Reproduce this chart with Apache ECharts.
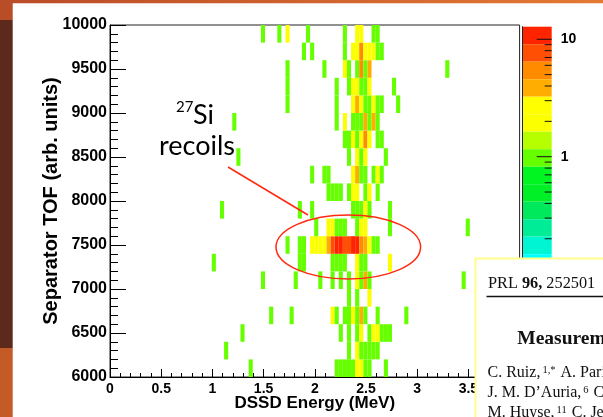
<!DOCTYPE html>
<html>
<head>
<meta charset="utf-8">
<script src="https://cdn.jsdelivr.net/npm/echarts@6/dist/echarts.min.js"></script>
<style>
html,body{margin:0;padding:0;background:#fff;}
#chart{width:603px;height:417px;}
</style>
</head>
<body>
<div id="chart"></div>
<script>
// ---------------- DATA ----------------
// Histogram binning (DSSD energy in MeV, separator TOF in arb. units)
const energyBinStart = 0.034;
const energyBinWidth = 0.04;
const tofBinWidth = 200;

// Each TOF row: [energy bin index, counts]
const row6000 = [[33,1],[54,1],[55,1],[56,1],[57,1],[58,1],[59,2],[60,2],[61,1],[62,1],[66,1]];
const row6200 = [[27,1],[57,1],[59,2],[60,1],[61,1],[62,1],[63,1],[64,1]];
const row6400 = [[31,1],[55,1],[57,1],[59,1],[60,2],[62,1],[63,2],[64,2],[65,1],[66,1],[67,1]];
const row6600 = [[38,1],[43,1],[53,2],[54,1],[56,1],[57,1],[58,2],[59,1],[60,4],[61,1],[64,1],[71,1]];
const row6800 = [[57,1],[59,1],[62,2]];
const row7000 = [[36,1],[44,1],[50,1],[53,1],[55,1],[57,1],[59,2],[60,1],[61,4],[62,1],[85,1]];
const row7200 = [[24,1],[45,1],[46,1],[53,1],[54,1],[55,1],[56,1],[59,2],[60,1],[61,1],[67,2]];
const row7400 = [[42,1],[45,1],[46,1],[48,2],[49,2],[50,2],[51,2],[52,4],[53,7],[54,10],[55,11],[56,8],[57,8],[58,10],[59,10],[60,6],[61,4],[62,2],[63,1],[64,1]];
const row7600 = [[49,1],[52,2],[53,2],[54,1],[55,1],[56,1],[59,1],[60,2],[61,2],[67,1],[86,1]];
const row7800 = [[26,1],[45,1],[48,1],[58,1],[59,1],[60,1],[61,2],[62,1],[67,1]];
const row8000 = [[52,1],[53,1],[54,1],[55,1],[57,1],[58,2],[59,2],[61,1],[62,2],[64,1]];
const row8200 = [[48,1],[51,1],[52,1],[58,2],[59,4],[60,1],[61,1],[63,1],[64,2],[65,1]];
const row8400 = [[30,1],[57,1],[59,2],[60,1],[61,2],[66,1]];
const row8600 = [[56,1],[57,1],[58,2],[59,1],[60,2],[61,5],[62,2],[64,1],[65,1]];
const row8800 = [[29,1],[54,1],[56,2],[58,1],[59,1],[60,1],[61,4],[62,1],[63,4],[64,1]];
const row9000 = [[42,1],[54,1],[58,2],[59,4],[60,2],[61,1],[62,1],[63,2],[64,1],[65,1],[69,1]];
const row9200 = [[42,1],[54,1],[57,1],[58,2],[59,2],[60,1],[61,1],[62,2],[68,1]];
const row9400 = [[42,1],[51,1],[56,2],[57,1],[59,1],[60,5],[61,1],[62,4],[81,1]];
const row9600 = [[46,1],[48,1],[56,1],[58,2],[59,2],[60,5],[61,2],[62,2],[63,2],[64,1],[65,1]];
const row9800 = [[36,1],[40,1],[42,2],[47,1],[56,1],[59,2],[60,2],[63,1],[64,1]];

const tofRowStarts = [6000,6200,6400,6600,6800,7000,7200,7400,7600,7800,8000,8200,8400,8600,8800,9000,9200,9400,9600,9800];
const tofRows = [row6000,row6200,row6400,row6600,row6800,row7000,row7200,row7400,row7600,row7800,row8000,row8200,row8400,row8600,row8800,row9000,row9200,row9400,row9600,row9800];

// Axis tick labels / ranges
const energyRange = [0, 4];
const energyTickStep = 0.5;
const tofRange = [6000, 10000];
const tofTickStep = 500;

// Colour (z) scale, log, 20 contour bands
const zMin = 0.01337;
const zMax = 12.8;
const zMajorTicks = [0.1, 1, 10];
const zMinorTicks = [0.02,0.03,0.04,0.05,0.06,0.07,0.08,0.09,0.2,0.3,0.4,0.5,0.6,0.7,0.8,0.9,2,3,4,5,6,7,8,9];
const zLabelValues = [1, 10];
const bandColorsTopDown = ['#ff2400','#ff4f05','#ff8c00','#ffad00','#ffff00','#fbff00','#b5ff00','#66ff00','#00f521','#00f028','#00e85c','#00ec96','#00f5d2','#00ffff','#00ccff','#0099ff','#0055ff','#2a00ff','#5500ff','#8000ff'];

// ---------------- BUILD ----------------
const cells = [];
tofRows.forEach((row, r) => {
  row.forEach(([bin, count]) => {
    cells.push([energyBinStart + bin * energyBinWidth, tofRowStarts[r], count]);
  });
});

const logMax = Math.log10(zMax), logMin = Math.log10(zMin);
const nBands = bandColorsTopDown.length;
const bandStep = (logMax - logMin) / nBands;
const pieces = bandColorsTopDown.map((color, i) => {
  const hi = Math.pow(10, logMax - bandStep * i);
  const lo = Math.pow(10, logMax - bandStep * (i + 1));
  return i === 0 ? { gte: lo, lte: hi, color } : { gte: lo, lt: hi, color };
});

const zTickData = zMajorTicks.map(v => [0, v, 1]).concat(zMinorTicks.map(v => [0, v, 0]));

const AX_FONT = 'Liberation Sans';
const SERIF = 'Liberation Serif';
const chart = echarts.init(document.getElementById('chart'), null, { renderer: 'canvas' });

function txt(x, y, text, size, extra) {
  return Object.assign({ type: 'text', z: 101, x: x, y: y,
    style: Object.assign({ text: text, fontFamily: SERIF, fontSize: size, fill: '#111',
      align: 'left', verticalAlign: 'middle', textAlign: 'left', textVerticalAlign: 'middle' }, extra || {}) });
}
const supRich = { s: { fontFamily: SERIF, fontSize: 10.5, fill: '#111', verticalAlign: 'top', padding: [0, 1, 0, 2] } };

const option = {
  backgroundColor: '#ffffff',
  animation: false,
  grid: [
    { left: 110, top: 25, width: 409.6, height: 352, show: true, borderColor: '#222', borderWidth: 1,
      backgroundColor: 'transparent', containLabel: false, outerBoundsMode: 'none' },
    { left: 522.3, top: 26.7, width: 29.4, height: 350, show: false, containLabel: false, outerBoundsMode: 'none' }
  ],
  xAxis: [
    {
      gridIndex: 0, type: 'value', min: energyRange[0], max: energyRange[1], interval: energyTickStep,
      axisLine: { show: true, onZero: false, lineStyle: { color: '#000', width: 1 } },
      axisTick: { show: true, inside: true, length: 8, lineStyle: { color: '#000', width: 1 } },
      minorTick: { show: true, splitNumber: 5, length: 4, lineStyle: { color: '#000', width: 1 } },
      splitLine: { show: false },
      axisLabel: { fontFamily: AX_FONT, fontWeight: 'bold', fontSize: 14, color: '#000', margin: 5,
        formatter: v => String(v) },
      name: 'DSSD Energy (MeV)', nameLocation: 'middle', nameGap: 18, nameMoveOverlap: false,
      nameTextStyle: { fontFamily: AX_FONT, fontWeight: 'bold', fontSize: 17, color: '#000' }
    },
    { gridIndex: 1, type: 'value', min: 0, max: 1, show: false }
  ],
  yAxis: [
    {
      gridIndex: 0, type: 'value', min: tofRange[0], max: tofRange[1], interval: tofTickStep,
      axisLine: { show: true, onZero: false, lineStyle: { color: '#000', width: 1 } },
      axisTick: { show: true, inside: true, length: 16, lineStyle: { color: '#000', width: 1 } },
      minorTick: { show: true, splitNumber: 5, length: 8, lineStyle: { color: '#000', width: 1 } },
      splitLine: { show: false },
      axisLabel: { fontFamily: AX_FONT, fontWeight: 'bold', fontSize: 16, color: '#000', margin: 3,
        padding: [6, 0, 0, 0], formatter: v => String(v) },
      name: 'Separator TOF (arb. units)', nameLocation: 'middle', nameGap: 49, nameRotate: 90, nameMoveOverlap: false,
      nameTextStyle: { fontFamily: AX_FONT, fontWeight: 'bold', fontSize: 20, color: '#000' }
    },
    {
      gridIndex: 1, type: 'log', min: zMin, max: zMax, position: 'right', z: 10,
      axisLine: { show: true, lineStyle: { color: '#222', width: 1 } },
      axisTick: { show: false }, minorTick: { show: false }, splitLine: { show: false },
      axisLabel: { fontFamily: AX_FONT, fontWeight: 'bold', fontSize: 14, color: '#000', margin: 9,
        padding: [3, 0, 0, 0], showMinLabel: false, showMaxLabel: false,
        formatter: v => (zLabelValues.some(t => Math.abs(v - t) < 1e-6 * t) ? String(Math.round(v)) : '') }
    }
  ],
  visualMap: {
    type: 'piecewise', seriesIndex: 0, dimension: 2, pieces: pieces,
    orient: 'vertical', left: 522.3, top: 26.7, itemWidth: 29.4, itemHeight: 17.5, itemGap: 0,
    padding: 0, itemSymbol: 'rect', showLabel: false, selectedMode: false, hoverLink: false,
    textStyle: { fontSize: 1, color: 'transparent' }
  },
  series: [
    {
      type: 'custom', xAxisIndex: 0, yAxisIndex: 0, data: cells, clip: true, silent: true,
      encode: { x: 0, y: 1 },
      renderItem: function (params, api) {
        const e = api.value(0), t = api.value(1);
        const p0 = api.coord([e, t + tofBinWidth]);
        const p1 = api.coord([e + energyBinWidth, t]);
        return { type: 'rect', shape: { x: p0[0], y: p0[1], width: p1[0] - p0[0], height: p1[1] - p0[1] },
          style: { fill: api.visual('color') } };
      }
    },
    {
      type: 'custom', xAxisIndex: 1, yAxisIndex: 1, data: zTickData, silent: true, z: 10,
      encode: { x: 0, y: 1 },
      renderItem: function (params, api) {
        const p = api.coord([1, api.value(1)]);
        const len = api.value(2) ? 15 : 7;
        return { type: 'line', shape: { x1: p[0] - len, y1: p[1], x2: p[0], y2: p[1] },
          style: { stroke: '#111', lineWidth: 1 } };
      }
    }
  ],
  graphic: [
    // slide decoration
    { type: 'rect', z: 100, shape: { x: 0, y: 0, width: 603, height: 3.3 },
      style: { fill: new echarts.graphic.LinearGradient(0, 0, 1, 0, [{ offset: 0, color: '#b94b27' }, { offset: 1, color: '#e27a34' }]) } },
    { type: 'rect', z: 100, shape: { x: 0, y: 0, width: 12.7, height: 20 }, style: { fill: '#b94d27' } },
    { type: 'rect', z: 100, shape: { x: 0, y: 20, width: 12.7, height: 328 }, style: { fill: '#5b2a1d' } },
    { type: 'rect', z: 100, shape: { x: 0, y: 348, width: 12.7, height: 69 }, style: { fill: '#c45a26' } },
    // annotation
    { type: 'text', z: 100, x: 176, y: 107, style: { text: '27', fontFamily: 'Lato', fontSize: 15, fill: '#000',
      align: 'left', verticalAlign: 'middle', textAlign: 'left', textVerticalAlign: 'middle' } },
    { type: 'text', z: 100, x: 193, y: 115, style: { text: 'Si', fontFamily: 'Lato', fontSize: 27, fill: '#000',
      align: 'left', verticalAlign: 'middle', textAlign: 'left', textVerticalAlign: 'middle' } },
    { type: 'text', z: 100, x: 159, y: 146, style: { text: 'recoils', fontFamily: 'Lato', fontSize: 27, fill: '#000',
      align: 'left', verticalAlign: 'middle', textAlign: 'left', textVerticalAlign: 'middle' } },
    { type: 'line', z: 100, shape: { x1: 228, y1: 167, x2: 308, y2: 215 }, style: { stroke: '#ff2a10', lineWidth: 1.5 } },
    { type: 'ellipse', z: 100, shape: { cx: 348.3, cy: 247, rx: 72.3, ry: 32 }, style: { fill: 'none', stroke: '#ff2a10', lineWidth: 1.5 } },
    // paper clipping
    { type: 'rect', z: 100, shape: { x: 475.5, y: 258.5, width: 140, height: 170 }, style: { fill: '#ffffff', stroke: '#ffff8a', lineWidth: 2 } },
    txt(488, 283.6, 'PRL {b|96,} 252501', 16.3, { rich: { b: { fontFamily: SERIF, fontSize: 16.3, fontWeight: 'bold', fill: '#111' } } }),
    { type: 'line', z: 101, shape: { x1: 486.5, y1: 296.5, x2: 603, y2: 296.5 }, style: { stroke: '#111', lineWidth: 1.3 } },
    txt(517.3, 339.2, 'Measurement of the', 19.5, { fontWeight: 'bold' }),
    txt(487.5, 373.2, 'C. Ruiz,{s|1,*} A. Parikh,{s|2}', 16, { rich: supRich }),
    txt(487.5, 392.4, 'J. M. D\u2019Auria,{s|6} C. Davis,{s|7}', 16, { rich: supRich }),
    txt(487.5, 412.6, 'M. Huyse,{s|11} C. Jewett,{s|12}', 16, { rich: supRich })
  ]
};
chart.setOption(option);
</script>
</body>
</html>
